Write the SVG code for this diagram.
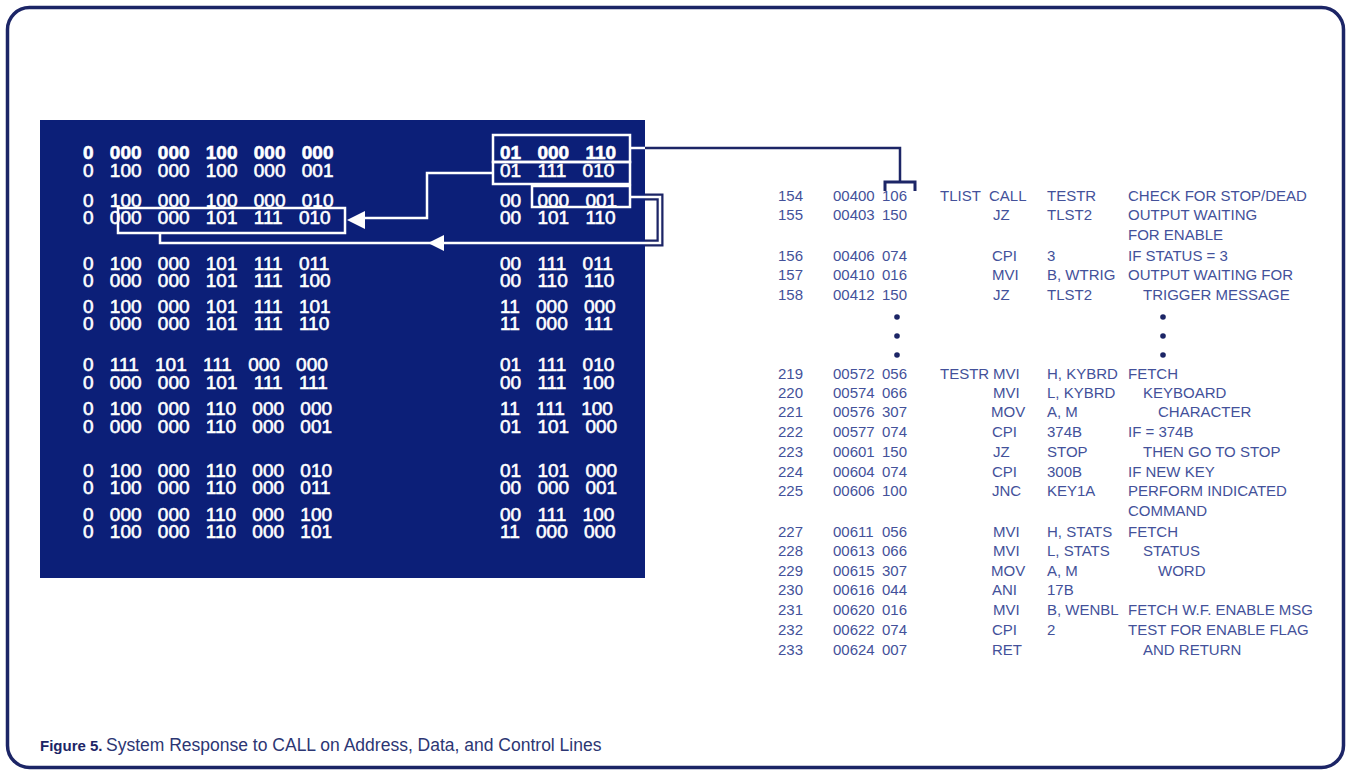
<svg xmlns="http://www.w3.org/2000/svg" width="1350" height="772" viewBox="0 0 1350 772">
<style>
.frame{fill:#ffffff;stroke:#1c2566;stroke-width:3.5}
.panel{fill:#0c1f78}
.b{font-family:"Liberation Sans",Arial,sans-serif;font-size:19px;fill:#ffffff;stroke:#ffffff;stroke-width:0.6;word-spacing:11px}
.bb{font-weight:bold}
.l{font-family:"Liberation Sans",Arial,sans-serif;font-size:15px;fill:#43519a}
.wl{fill:none;stroke:#ffffff;stroke-width:2.5}
.nl{fill:none;stroke:#1c2566;stroke-width:2.5}
.halo{fill:none;stroke:#1c2566;stroke-width:7}
.cap{font-family:"Liberation Sans",Arial,sans-serif;font-size:17.5px;fill:#2c3673}
</style>
<rect class="frame" x="7.5" y="7.5" width="1336" height="760" rx="22"/>

<g id="bus-panel">
<rect class="panel" x="40" y="120" width="605" height="458"/>
<g id="address-lines">
<text class="b" x="83" y="159"><tspan class="bb">0 000 000 100 000 000</tspan><tspan x="83" dy="18">0 100 000 100 000 001</tspan></text>
<text class="b" x="83" y="207">0 100 000 100 000 010<tspan x="83" dy="17">0 000 000 101 111 010</tspan></text>
<text class="b" x="83" y="270">0 100 000 101 111 011<tspan x="83" dy="17">0 000 000 101 111 100</tspan></text>
<text class="b" x="83" y="313">0 100 000 101 111 101<tspan x="83" dy="17">0 000 000 101 111 110</tspan></text>
<text class="b" x="83" y="371">0 111 101 111 000 000<tspan x="83" dy="18">0 000 000 101 111 111</tspan></text>
<text class="b" x="83" y="415">0 100 000 110 000 000<tspan x="83" dy="18">0 000 000 110 000 001</tspan></text>
<text class="b" x="83" y="477">0 100 000 110 000 010<tspan x="83" dy="17">0 100 000 110 000 011</tspan></text>
<text class="b" x="83" y="521">0 000 000 110 000 100<tspan x="83" dy="17">0 100 000 110 000 101</tspan></text>
</g>
<g id="data-lines">
<text class="b" x="500" y="159"><tspan class="bb">01 000 110</tspan><tspan x="500" dy="18">01 111 010</tspan></text>
<text class="b" x="500" y="207">00 000 001<tspan x="500" dy="17">00 101 110</tspan></text>
<text class="b" x="500" y="270">00 111 011<tspan x="500" dy="17">00 110 110</tspan></text>
<text class="b" x="500" y="313">11 000 000<tspan x="500" dy="17">11 000 111</tspan></text>
<text class="b" x="500" y="371">01 111 010<tspan x="500" dy="18">00 111 100</tspan></text>
<text class="b" x="500" y="415">11 111 100<tspan x="500" dy="18">01 101 000</tspan></text>
<text class="b" x="500" y="477">01 101 000<tspan x="500" dy="17">00 000 001</tspan></text>
<text class="b" x="500" y="521">00 111 100<tspan x="500" dy="17">11 000 000</tspan></text>
</g>
</g>

<g id="box-call-opcode"><rect class="wl" x="493" y="135" width="137" height="27"/></g>
<g id="box-return-low"><rect class="wl" x="493" y="162" width="137" height="22"/></g>
<g id="box-return-high"><rect class="wl" x="532" y="186" width="98" height="21"/></g>
<g id="box-stack-address"><rect class="wl" x="118" y="208" width="227" height="25"/></g>

<g id="connectors">
<path class="wl" d="M630,148 H645"/>
<path class="nl" d="M645,148 H900 V182"/>
<path fill="none" stroke="#1c2566" stroke-width="3" d="M885,191 V182 H915 V191"/>
<path class="wl" d="M493,173 H427 V218 H365"/>
<polygon fill="#ffffff" points="347,220 365,211 365,229"/>
<path class="halo" d="M645,197 H660 V243 H645"/>
<path class="wl" d="M630,197 H660 V243 H160 V233"/>
<polygon fill="#ffffff" points="428,243 444,235 444,251"/>
</g>

<g id="listing">
<g class="l">
<text y="201"><tspan x="778">154</tspan><tspan x="833">00400</tspan><tspan x="882">106</tspan><tspan x="940">TLIST</tspan><tspan x="989">CALL</tspan><tspan x="1047">TESTR</tspan><tspan x="1128">CHECK FOR STOP/DEAD</tspan></text>
<text y="220"><tspan x="778">155</tspan><tspan x="833">00403</tspan><tspan x="882">150</tspan><tspan x="993">JZ</tspan><tspan x="1047">TLST2</tspan><tspan x="1128">OUTPUT WAITING</tspan></text>
<text y="240"><tspan x="1128">FOR ENABLE</tspan></text>
<text y="261"><tspan x="778">156</tspan><tspan x="833">00406</tspan><tspan x="882">074</tspan><tspan x="992">CPI</tspan><tspan x="1047">3</tspan><tspan x="1128">IF STATUS = 3</tspan></text>
<text y="280"><tspan x="778">157</tspan><tspan x="833">00410</tspan><tspan x="882">016</tspan><tspan x="992">MVI</tspan><tspan x="1047">B, WTRIG</tspan><tspan x="1128">OUTPUT WAITING FOR</tspan></text>
<text y="300"><tspan x="778">158</tspan><tspan x="833">00412</tspan><tspan x="882">150</tspan><tspan x="993">JZ</tspan><tspan x="1047">TLST2</tspan><tspan x="1143">TRIGGER MESSAGE</tspan></text>
<text y="379"><tspan x="778">219</tspan><tspan x="833">00572</tspan><tspan x="882">056</tspan><tspan x="940">TESTR</tspan><tspan x="993">MVI</tspan><tspan x="1047">H, KYBRD</tspan><tspan x="1128">FETCH</tspan></text>
<text y="398"><tspan x="778">220</tspan><tspan x="833">00574</tspan><tspan x="882">066</tspan><tspan x="993">MVI</tspan><tspan x="1047">L, KYBRD</tspan><tspan x="1143">KEYBOARD</tspan></text>
<text y="417"><tspan x="778">221</tspan><tspan x="833">00576</tspan><tspan x="882">307</tspan><tspan x="991">MOV</tspan><tspan x="1047">A, M</tspan><tspan x="1158">CHARACTER</tspan></text>
<text y="437"><tspan x="778">222</tspan><tspan x="833">00577</tspan><tspan x="882">074</tspan><tspan x="992">CPI</tspan><tspan x="1047">374B</tspan><tspan x="1128">IF = 374B</tspan></text>
<text y="457"><tspan x="778">223</tspan><tspan x="833">00601</tspan><tspan x="882">150</tspan><tspan x="993">JZ</tspan><tspan x="1047">STOP</tspan><tspan x="1143">THEN GO TO STOP</tspan></text>
<text y="477"><tspan x="778">224</tspan><tspan x="833">00604</tspan><tspan x="882">074</tspan><tspan x="992">CPI</tspan><tspan x="1047">300B</tspan><tspan x="1128">IF NEW KEY</tspan></text>
<text y="496"><tspan x="778">225</tspan><tspan x="833">00606</tspan><tspan x="882">100</tspan><tspan x="992">JNC</tspan><tspan x="1047">KEY1A</tspan><tspan x="1128">PERFORM INDICATED</tspan></text>
<text y="516"><tspan x="1128">COMMAND</tspan></text>
<text y="537"><tspan x="778">227</tspan><tspan x="833">00611</tspan><tspan x="882">056</tspan><tspan x="993">MVI</tspan><tspan x="1047">H, STATS</tspan><tspan x="1128">FETCH</tspan></text>
<text y="556"><tspan x="778">228</tspan><tspan x="833">00613</tspan><tspan x="882">066</tspan><tspan x="993">MVI</tspan><tspan x="1047">L, STATS</tspan><tspan x="1143">STATUS</tspan></text>
<text y="576"><tspan x="778">229</tspan><tspan x="833">00615</tspan><tspan x="882">307</tspan><tspan x="991">MOV</tspan><tspan x="1047">A, M</tspan><tspan x="1158">WORD</tspan></text>
<text y="595"><tspan x="778">230</tspan><tspan x="833">00616</tspan><tspan x="882">044</tspan><tspan x="992">ANI</tspan><tspan x="1047">17B</tspan></text>
<text y="615"><tspan x="778">231</tspan><tspan x="833">00620</tspan><tspan x="882">016</tspan><tspan x="993">MVI</tspan><tspan x="1047">B, WENBL</tspan><tspan x="1128">FETCH W.F. ENABLE MSG</tspan></text>
<text y="635"><tspan x="778">232</tspan><tspan x="833">00622</tspan><tspan x="882">074</tspan><tspan x="992">CPI</tspan><tspan x="1047">2</tspan><tspan x="1128">TEST FOR ENABLE FLAG</tspan></text>
<text y="655"><tspan x="778">233</tspan><tspan x="833">00624</tspan><tspan x="882">007</tspan><tspan x="992">RET</tspan><tspan x="1143">AND RETURN</tspan></text>
</g>
<g fill="#1c2566">
<circle cx="897" cy="317" r="2.8"/><circle cx="897" cy="336" r="2.8"/><circle cx="897" cy="355" r="2.8"/>
<circle cx="1163" cy="317" r="2.8"/><circle cx="1163" cy="336" r="2.8"/><circle cx="1163" cy="355" r="2.8"/>
</g>
</g>

<text class="cap" y="751"><tspan x="40" font-weight="bold" font-size="15" fill="#1c2566">Figure 5.</tspan><tspan x="106">System Response to CALL on Address, Data, and Control Lines</tspan></text>
</svg>
